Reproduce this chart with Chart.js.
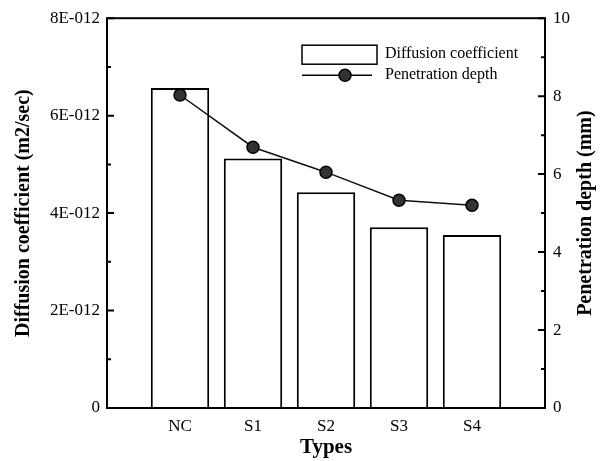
<!DOCTYPE html>
<html>
<head>
<meta charset="utf-8">
<script src="https://cdn.jsdelivr.net/npm/chart.js@4"></script>
<style>
  html, body { margin: 0; padding: 0; background: #fff; }
  #wrap { width: 605px; height: 461px; }
</style>
</head>
<body>
<div id="wrap"><canvas id="chart" width="605" height="461"></canvas></div>
<script>
// data
const types = ["NC", "S1", "S2", "S3", "S4"];
const diffusion = [6.57e-12, 5.12e-12, 4.43e-12, 3.71e-12, 3.55e-12]; // m2/sec
const depth = [8.03, 6.69, 6.05, 5.33, 5.20]; // mm
const leftTicks = ["0", "2E-012", "4E-012", "6E-012", "8E-012"];
const rightTicks = ["0", "2", "4", "6", "8", "10"];

// one empty slot on each side, like the original axis
const labels = ["", ...types, ""];
const pad = (arr) => [null, ...arr, null];

const serif = "'Liberation Serif', 'DejaVu Serif', serif";

// frame, inward ticks, right title (reads upwards) and the legend
const framePlugin = {
  id: "frame",
  afterDraw(chart) {
    const { ctx, chartArea: a, scales } = chart;
    ctx.save();
    ctx.strokeStyle = "#000";
    ctx.lineWidth = 2;
    ctx.strokeRect(a.left, a.top, a.width, a.height);

    ctx.beginPath();
    for (let i = 0; i <= 8; i++) {
      const y = scales.y.getPixelForValue(i * 1e-12);
      const len = i % 2 === 0 ? 7 : 4;
      ctx.moveTo(a.left, y);
      ctx.lineTo(a.left + len, y);
    }
    for (let i = 0; i <= 10; i++) {
      const y = scales.y2.getPixelForValue(i);
      const len = i % 2 === 0 ? 7 : 4;
      ctx.moveTo(a.right, y);
      ctx.lineTo(a.right - len, y);
    }
    ctx.stroke();

    // right axis title
    ctx.save();
    ctx.translate(chart.width - 19, (a.top + a.bottom) / 2);
    ctx.rotate(-Math.PI / 2);
    ctx.font = "bold 20px " + serif;
    ctx.fillStyle = "#000";
    ctx.textAlign = "center";
    ctx.textBaseline = "middle";
    ctx.fillText("Penetration depth (mm)", 0, 0);
    ctx.restore();

    // legend
    const lx = a.left + 195, ly = a.top + 27;
    ctx.lineWidth = 1.5;
    ctx.fillStyle = "#fff";
    ctx.fillRect(lx, ly, 75, 19);
    ctx.strokeRect(lx, ly, 75, 19);
    ctx.beginPath();
    ctx.moveTo(lx, ly + 30);
    ctx.lineTo(lx + 70, ly + 30);
    ctx.stroke();
    ctx.beginPath();
    ctx.arc(lx + 43, ly + 30, 6, 0, Math.PI * 2);
    ctx.fillStyle = "#333";
    ctx.fill();
    ctx.stroke();
    ctx.fillStyle = "#000";
    ctx.font = "16px " + serif;
    ctx.textBaseline = "middle";
    ctx.fillText("Diffusion coefficient", lx + 83, ly + 9);
    ctx.fillText("Penetration depth", lx + 83, ly + 30);
    ctx.restore();
  }
};

new Chart(document.getElementById("chart").getContext("2d"), {
  data: {
    labels: labels,
    datasets: [
      {
        type: "line",
        label: "Penetration depth",
        data: pad(depth),
        yAxisID: "y2",
        borderColor: "#111",
        borderWidth: 1.5,
        pointRadius: 6,
        pointBackgroundColor: "#333",
        pointBorderColor: "#000",
        pointBorderWidth: 1.5,
        order: 0
      },
      {
        type: "bar",
        label: "Diffusion coefficient",
        data: pad(diffusion),
        yAxisID: "y",
        backgroundColor: "#fff",
        borderColor: "#000",
        borderWidth: 2,
        categoryPercentage: 1,
        barPercentage: 0.8,
        order: 1
      }
    ]
  },
  options: {
    responsive: false,
    animation: false,
    layout: { padding: { top: 16, left: 0, right: 0, bottom: 0 } },
    plugins: { legend: { display: false }, tooltip: { enabled: false } },
    scales: {
      x: {
        type: "category",
        offset: false,
        grid: { display: false, drawTicks: false },
        border: { display: false },
        ticks: { color: "#000", font: { family: serif, size: 17 }, padding: 8, maxRotation: 0, autoSkip: false },
        title: { display: true, text: "Types", color: "#000", font: { family: serif, size: 21, weight: "bold" }, padding: { top: 0, bottom: 1 } },
        afterFit: (s) => { s.height = 53; }
      },
      y: {
        position: "left",
        min: 0,
        max: 8e-12,
        grid: { display: false, drawTicks: false },
        border: { display: false },
        ticks: {
          stepSize: 2e-12,
          color: "#000",
          font: { family: serif, size: 17 },
          padding: 7,
          callback: (v) => leftTicks[Math.round(v / 2e-12)]
        },
        title: { display: true, text: "Diffusion coefficient (m2/sec)", color: "#000", font: { family: serif, size: 20, weight: "bold" }, padding: { top: 12, bottom: 0 } },
        afterFit: (s) => { s.width = 107; }
      },
      y2: {
        position: "right",
        min: 0,
        max: 10,
        grid: { display: false, drawTicks: false },
        border: { display: false },
        ticks: {
          stepSize: 2,
          color: "#000",
          font: { family: serif, size: 17 },
          padding: 8,
          callback: (v) => rightTicks[Math.round(v / 2)]
        },
        title: { display: false },
        afterFit: (s) => { s.width = 60; }
      }
    }
  },
  plugins: [framePlugin]
});
</script>
</body>
</html>
